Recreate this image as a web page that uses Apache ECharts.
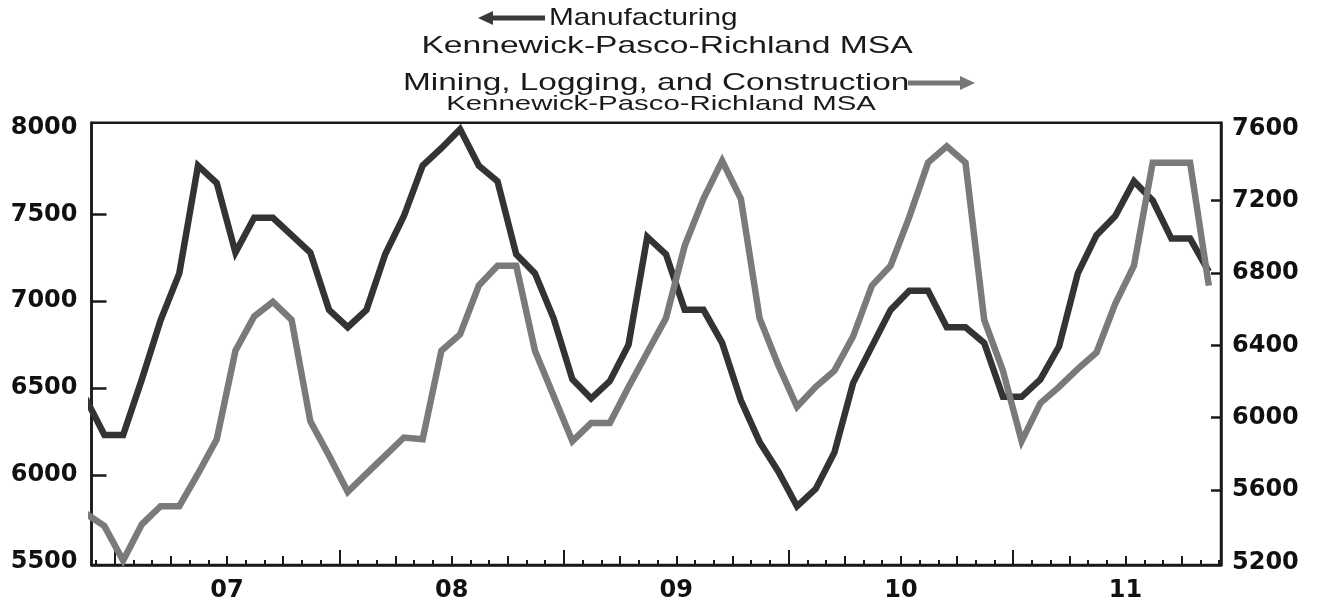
<!DOCTYPE html>
<html>
<head>
<meta charset="utf-8">
<script src="https://cdn.jsdelivr.net/npm/echarts@6/dist/echarts.min.js"></script>
<style>
  html, body { margin: 0; padding: 0; background: #fff; }
  #chart { width: 1317px; height: 604px; }
</style>
</head>
<body>
<div id="chart"></div>
<script>
// ---- data ----
const months = [
  '2006-11','2006-12',
  '2007-01','2007-02','2007-03','2007-04','2007-05','2007-06','2007-07','2007-08','2007-09','2007-10','2007-11','2007-12',
  '2008-01','2008-02','2008-03','2008-04','2008-05','2008-06','2008-07','2008-08','2008-09','2008-10','2008-11','2008-12',
  '2009-01','2009-02','2009-03','2009-04','2009-05','2009-06','2009-07','2009-08','2009-09','2009-10','2009-11','2009-12',
  '2010-01','2010-02','2010-03','2010-04','2010-05','2010-06','2010-07','2010-08','2010-09','2010-10','2010-11','2010-12',
  '2011-01','2011-02','2011-03','2011-04','2011-05','2011-06','2011-07','2011-08','2011-09','2011-10','2011-11'
];
// Manufacturing, Kennewick-Pasco-Richland MSA (left axis)
const manufacturing = [
  6440, 6230,
  6230, 6550, 6890, 7160, 7780, 7680, 7280, 7480, 7480, 7380, 7280, 6950,
  6850, 6950, 7270, 7490, 7780, 7880, 7990, 7780, 7690, 7270, 7160, 6900,
  6550, 6440, 6540, 6750, 7370, 7270, 6950, 6950, 6760, 6430, 6190, 6020,
  5820, 5920, 6130, 6530, 6740, 6950, 7060, 7060, 6850, 6850, 6760, 6450,
  6450, 6550, 6740, 7160, 7380, 7490, 7690, 7580, 7360, 7360, 7170
];
// Mining, Logging, and Construction, Kennewick-Pasco-Richland MSA (right axis)
const mining = [
  5470, 5400,
  5210, 5410, 5510, 5510, 5690, 5880, 6370, 6560, 6640, 6540, 5980, 5790,
  5590, 5690, 5790, 5890, 5880, 6370, 6460, 6730, 6840, 6840, 6370, 6120,
  5870, 5970, 5970, 6170, 6360, 6550, 6950, 7210, 7420, 7210, 6550, 6290,
  6060, 6170, 6260, 6450, 6730, 6840, 7110, 7410, 7500, 7410, 6540, 6260,
  5870, 6080, 6170, 6270, 6360, 6630, 6840, 7410, 7410, 7410, 6730
];
const yearLabels = ['07', '08', '09', '10', '11'];
const leftTicks = [5500, 6000, 6500, 7000, 7500, 8000];
const rightTicks = [5200, 5600, 6000, 6400, 6800, 7200, 7600];

// ---- helpers ----
// month position on a continuous month scale: 0 = start of Jan 2007, points plotted mid-month (15th)
function monthPos(s) {
  const [y, m] = s.split('-').map(Number);
  return (y - 2007) * 12 + (m - 1) + 0.45;
}
const X_MIN = -1.24, X_MAX = 59.1;
const monthTicks = [], quarterTicks = [], yearTicks = [], labelPos = [];
for (let k = -1; k <= 59; k++) {
  if (k % 12 === 0) yearTicks.push(k);
  else if (((k % 3) + 3) % 3 === 0) quarterTicks.push(k);
  else monthTicks.push(k);
}
yearLabels.forEach((_, i) => labelPos.push(6 + 12 * i));

const LABEL_FONT = { fontFamily: 'DejaVu Sans', fontWeight: 'bold', fontSize: 24, color: '#111' };
const TICK_STYLE = { color: '#1a1a1a', width: 2 };
const plain = v => String(v);

function tickAxis(list, len, withLabels) {
  return {
    type: 'value', min: X_MIN, max: X_MAX, position: 'bottom',
    axisLine: { show: withLabels, onZero: false, lineStyle: { color: '#1a1a1a', width: 2.5 } },
    splitLine: { show: false },
    axisTick: { show: true, inside: true, length: len, customValues: list, lineStyle: TICK_STYLE },
    axisLabel: withLabels ? Object.assign({
      customValues: labelPos, margin: 14,
      formatter: v => yearLabels[Math.round((v - 6) / 12)]
    }, LABEL_FONT) : { show: false }
  };
}

const chart = echarts.init(document.getElementById('chart'), null, { renderer: 'canvas' });
const txt = (text, x, y, size, align, sx) => ({
  type: 'text', x: x, y: y, scaleX: sx, scaleY: 1, silent: true,
  style: { text: text, fontFamily: 'Liberation Sans', fontSize: size, fill: '#1a1a1a',
           textAlign: align, textVerticalAlign: 'middle' }
});

chart.setOption({
  backgroundColor: '#ffffff',
  animation: false,
  grid: { left: 91.5, right: 96, top: 122.7, bottom: 39, show: true, borderColor: '#1a1a1a', borderWidth: 2.5, containLabel: false },
  xAxis: [
    tickAxis(monthTicks, 5, true),
    tickAxis(quarterTicks, 9, false),
    tickAxis(yearTicks, 15, false)
  ],
  yAxis: [
    {
      type: 'value', position: 'left', min: 5482, max: 8027,
      axisLine: { show: true, onZero: false, lineStyle: { color: '#1a1a1a', width: 2.5 } },
      splitLine: { show: false },
      axisTick: { show: true, inside: true, length: 15, customValues: leftTicks.slice(1, -1), lineStyle: { color: '#1a1a1a', width: 2.5 } },
      axisLabel: Object.assign({ customValues: leftTicks, margin: 14, formatter: plain }, LABEL_FONT)
    },
    {
      type: 'value', position: 'right', min: 5185, max: 7631,
      axisLine: { show: true, onZero: false, lineStyle: { color: '#1a1a1a', width: 2.5 } },
      splitLine: { show: false },
      axisTick: { show: true, inside: true, length: 10, customValues: rightTicks.slice(1, -1), lineStyle: { color: '#1a1a1a', width: 2.5 } },
      axisLabel: Object.assign({ customValues: rightTicks, margin: 11, formatter: plain }, LABEL_FONT)
    }
  ],
  series: [
    {
      name: 'Manufacturing', type: 'line', xAxisIndex: 0, yAxisIndex: 0,
      data: months.map((m, i) => [monthPos(m), manufacturing[i]]),
      symbol: 'none', clip: true,
      lineStyle: { color: '#333333', width: 6.5, join: 'miter' }
    },
    {
      name: 'Mining, Logging, and Construction', type: 'line', xAxisIndex: 0, yAxisIndex: 1,
      data: months.map((m, i) => [monthPos(m), mining[i]]),
      symbol: 'none', clip: true,
      lineStyle: { color: '#7a7a7a', width: 6.5, join: 'miter' }
    }
  ],
  graphic: [
    { type: 'polygon', silent: true,
      shape: { points: [[478, 18], [493, 11], [493, 15.5], [545, 15.5], [545, 20.5], [493, 20.5], [493, 25]] },
      style: { fill: '#3a3a3a' } },
    txt('Manufacturing', 549, 18, 24, 'left', 1.24),
    txt('Kennewick-Pasco-Richland MSA', 667, 46, 24, 'center', 1.4),
    txt('Mining, Logging, and Construction', 403, 83, 24, 'left', 1.39),
    { type: 'polygon', silent: true,
      shape: { points: [[975, 83], [960, 76], [960, 80.5], [908, 80.5], [908, 85.5], [960, 85.5], [960, 90]] },
      style: { fill: '#777777' } },
    txt('Kennewick-Pasco-Richland MSA', 661, 104, 21, 'center', 1.4)
  ]
});
</script>
</body>
</html>
